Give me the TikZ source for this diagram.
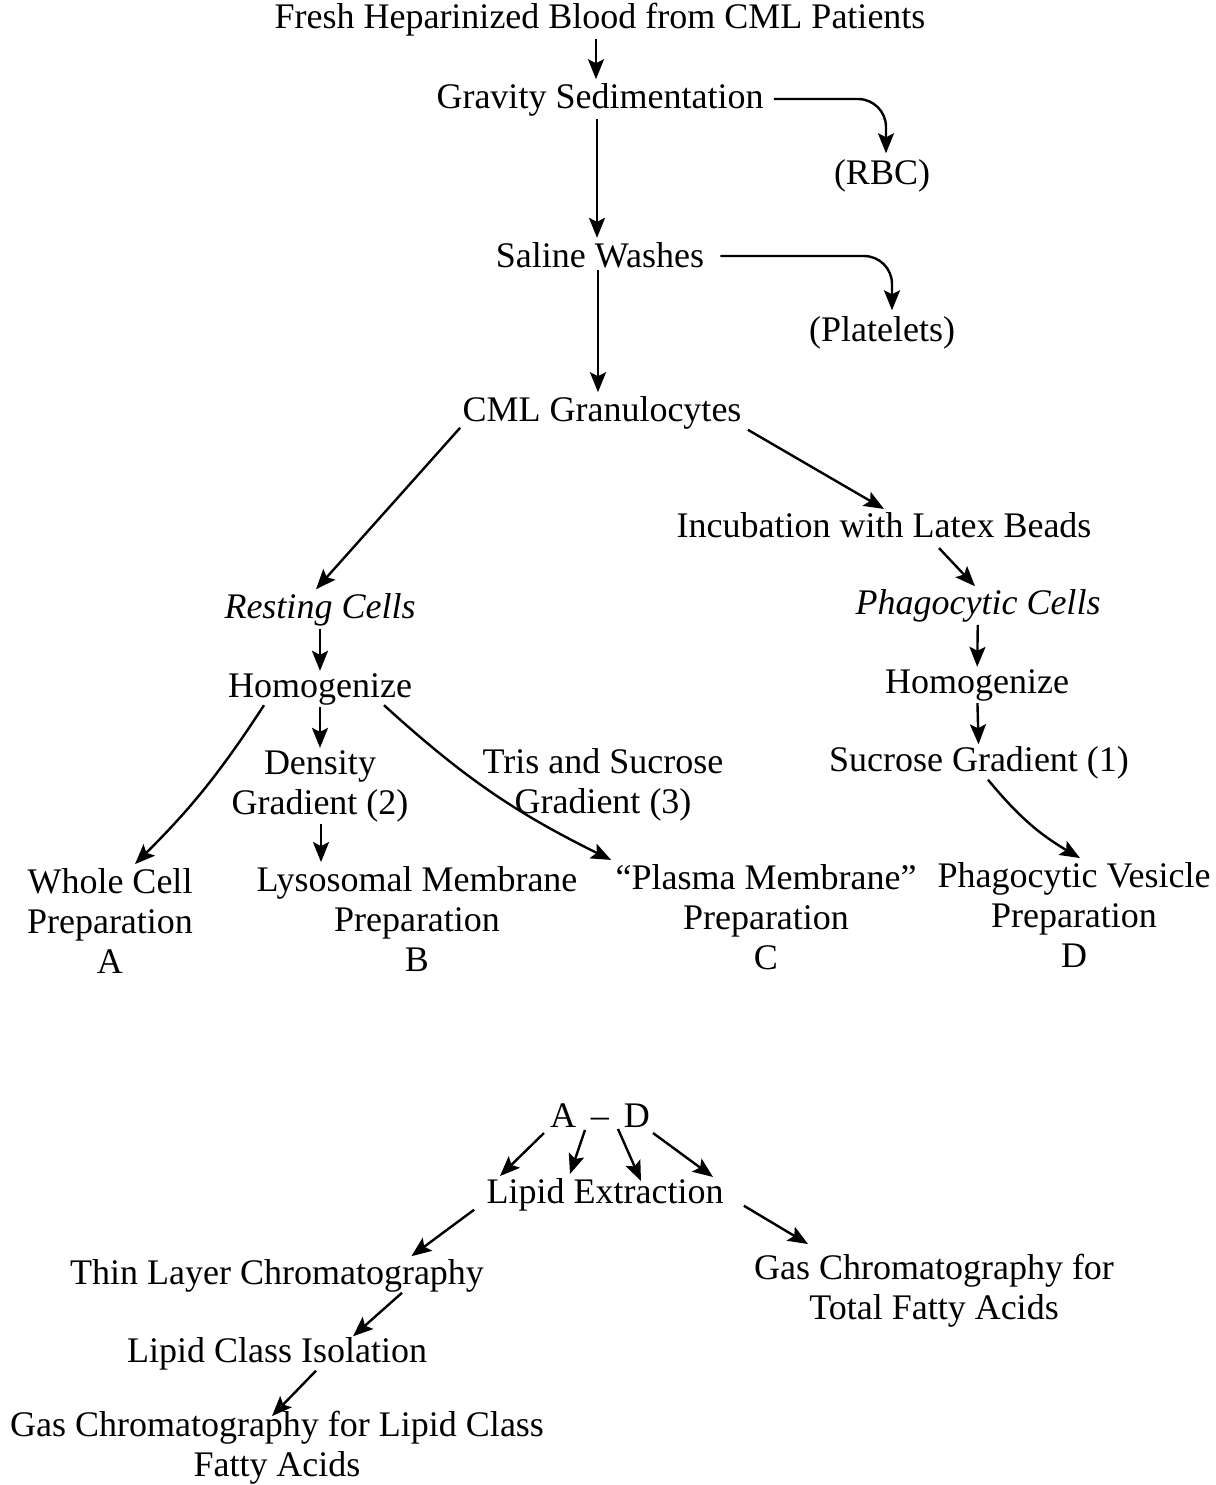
\documentclass[tikz,border=0pt]{standalone}
\usepackage{fontspec}
\setmainfont{Liberation Serif}
\usetikzlibrary{arrows.meta,calc}
\begin{document}
\begin{tikzpicture}[x=0.5pt,y=-0.5pt,
  lbl/.style={inner sep=1pt,align=center,font=\fontsize{18}{20}\selectfont},
  arr/.style={line width=1.2pt,-{Stealth[length=10pt,width=8pt,inset=2pt]}}]
\useasboundingbox (0,0) rectangle (1216,1485);
% nodes
\node[lbl] (fresh) at (600,20) {Fresh Heparinized Blood from CML Patients};
\node[lbl] (gs) at (600,100) {Gravity Sedimentation};
\node[lbl] (rbc) at (882,176) {(RBC)};
\node[lbl] (sal) at (600,255) {Saline Washes};
\node[lbl] (plt) at (882,333) {(Platelets)};
\node[lbl] (cml) at (602,413) {CML Granulocytes};
\node[lbl] (inc) at (884,525) {Incubation with Latex Beads};
\node[lbl] (rest) at (320,610) {\itshape Resting Cells};
\node[lbl] (phag) at (978,606) {\itshape Phagocytic Cells};
\node[lbl] (homl) at (320,689) {Homogenize};
\node[lbl] (homr) at (977,685) {Homogenize};
\node[lbl] (dens) at (320,786) {Density\\Gradient (2)};
\node[lbl] (tris) at (603,785) {Tris and Sucrose\\Gradient (3)};
\node[lbl] (sucr) at (979,763) {Sucrose Gradient (1)};
\node[lbl] (whole) at (110,921) {Whole Cell\\Preparation\\A};
\node[lbl] (lyso) at (417,919) {Lysosomal Membrane\\Preparation\\B};
\node[lbl] (plas) at (766,917) {``Plasma Membrane''\\Preparation\\C};
\node[lbl] (vesi) at (1074,915) {Phagocytic Vesicle\\Preparation\\D};
\node[lbl] (ad) at (600,1116) {A \,--\, D};
\node[lbl] (lipx) at (605,1195) {Lipid Extraction};
\node[lbl] (tlc) at (277,1276) {Thin Layer Chromatography};
\node[lbl] (gct) at (934,1291) {Gas Chromatography for\\Total Fatty Acids};
\node[lbl] (lci) at (277,1354) {Lipid Class Isolation};
\node[lbl] (gcl) at (277,1448) {Gas Chromatography for Lipid Class\\Fatty Acids};
% connectors
\draw[arr] ($(fresh.south)+(-4,0)$) -- ($(gs.north)+(-4,-2)$);
\draw[arr] ($(gs.south)+(-3,0)$) -- ($(sal.north)+(-3,-2)$);
\draw[arr,rounded corners=14pt] ($(gs.east)+(8,-1)$) -| ($(rbc.north)+(4,-4)$);
\draw[arr] ($(sal.south)+(-2,0)$) -- ($(cml.north)+(-4,-2)$);
\draw[arr,rounded corners=14pt] ($(sal.east)+(14,1)$) -| ($(plt.north)+(10,-4)$);
\draw[arr] ($(cml.south west)+(0,-4)$) -- ($(rest.north)+(-4,-2)$);
\draw[arr] ($(cml.south east)+(4,-2)$) -- ($(inc.north)+(0,-1)$);
\draw[arr] ($(inc.south)+(55,8)$) -- ($(phag.north)+(-3,-1)$);
\draw[arr] (phag) -- (homr);
\draw[arr] (homr) -- (sucr);
\draw[arr] ($(sucr.south)+(9,-2)$) to[bend right=10] ($(vesi.north)+(6,-2)$);
\draw[arr] (rest) -- (homl);
\draw[arr] ($(homl.south)+(-56,-2)$) to[bend left=6] ($(whole.north)+(25,-2)$);
\draw[arr] (homl) -- (dens);
\draw[arr] ($(homl.south)+(64,-2)$) to[bend right=8] ($(plas.north west)+(-2,-2)$);
\draw[arr] ($(dens.south)+(1,0)$) -- ($(lyso.north)+(-96,-2)$);
\draw[arr] ($(ad)+(-56,17)$) -- ($(lipx)+(-105,-19)$);
\draw[arr] ($(ad)+(-15,14)$) -- ($(lipx)+(-35,-21)$);
\draw[arr] ($(ad)+(18,13)$) -- ($(lipx)+(36,-14)$);
\draw[arr] ($(ad)+(53,17)$) -- ($(lipx)+(108,-18)$);
\draw[arr] ($(lipx.south west)+(-10,-4)$) -- ($(tlc.north east)+(-75,-1)$);
\draw[arr] ($(lipx.south east)+(18,-8)$) -- ($(gct.north)+(-126,-8)$);
\draw[arr] ($(tlc.south)+(125,-2)$) -- ($(lci.north)+(76,1)$);
\draw[arr] ($(lci.south)+(39,-2)$) -- ($(gcl.north)+(-5,7)$);
\end{tikzpicture}
\end{document}
